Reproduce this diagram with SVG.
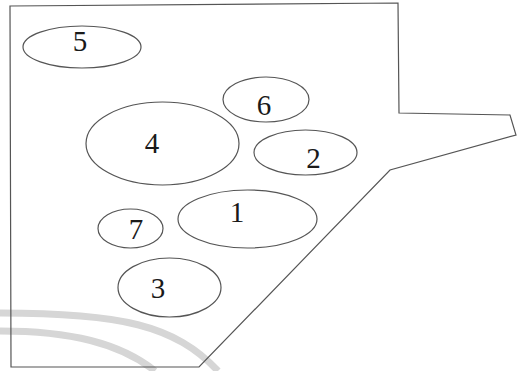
<svg xmlns="http://www.w3.org/2000/svg" width="520" height="371" viewBox="0 0 520 371">
<style>
.wm{fill:none;stroke:#d6d6d6;stroke-width:7}
.outline{fill:none;stroke:#555;stroke-width:1.2;stroke-linejoin:miter}
.node ellipse{fill:none;stroke:#555;stroke-width:1.2}
.node text{font-family:"Liberation Serif","Times New Roman",serif;font-size:29px;fill:#1a1a1a;text-anchor:middle}
</style>
<rect width="520" height="371" fill="#fff"/>
<g id="watermark">
<path class="wm" d="M0,313 C120,313 175,325 218,371"/>
<path class="wm" d="M0,331 C70,331 120,343 155,371"/>
</g>
<g id="boundary">
<polygon class="outline" points="10,6 398,3 399,113 510,115 516,135 390,170 199,367 11,367"/>
</g>
<g id="connectors"></g>
<g id="node5" class="node"><ellipse cx="82" cy="47" rx="59" ry="21"/><text x="80" y="51">5</text></g>
<g id="node4" class="node"><ellipse cx="162.5" cy="143.5" rx="76.5" ry="41.5"/><text x="152" y="153">4</text></g>
<g id="node6" class="node"><ellipse cx="266" cy="99.5" rx="43" ry="22.5"/><text x="264" y="115">6</text></g>
<g id="node2" class="node"><ellipse cx="305.5" cy="152.5" rx="51.5" ry="22.5"/><text x="313.5" y="168">2</text></g>
<g id="node1" class="node"><ellipse cx="247.5" cy="219" rx="69.5" ry="29"/><text x="237" y="222">1</text></g>
<g id="node7" class="node"><ellipse cx="130.5" cy="228.5" rx="32.5" ry="19.5"/><text x="136" y="239">7</text></g>
<g id="node3" class="node"><ellipse cx="169.5" cy="287.5" rx="51.5" ry="29.5"/><text x="158" y="298">3</text></g>
</svg>
